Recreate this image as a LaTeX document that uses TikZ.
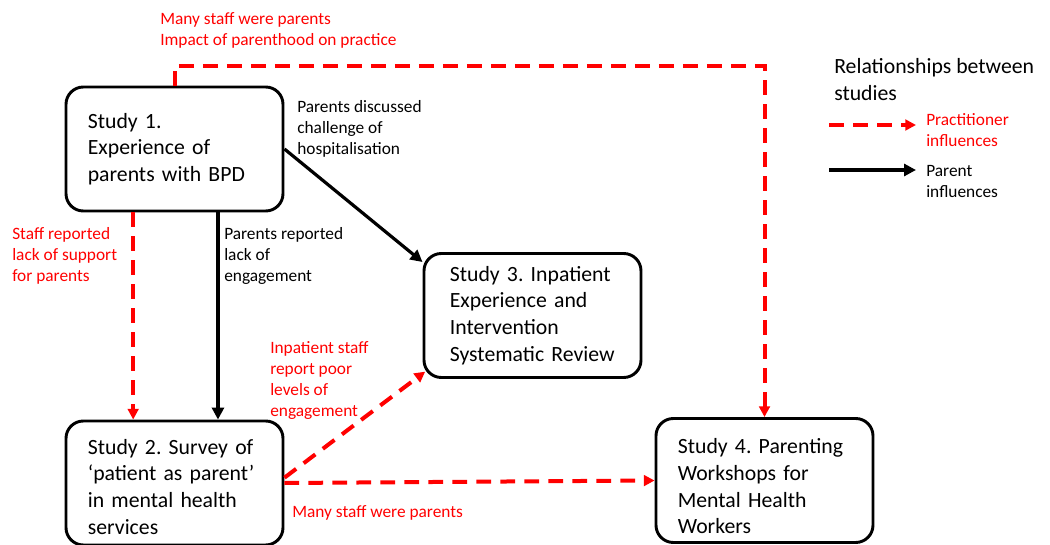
\documentclass[tikz,border=0pt]{standalone}
\usepackage{fontspec}
\setmainfont{Carlito}
\usetikzlibrary{positioning,arrows.meta}
\frenchspacing

\begin{document}
\begin{tikzpicture}
    [x=0.75pt,y=-0.75pt,
     study/.style={rectangle,rounded corners=13pt,draw=black,line width=2.2pt,fill=white,
       minimum width=162.75pt,minimum height=93pt,text width=130pt,align=left,
       font=\fontsize{16.3}{20}\selectfont},
     note/.style={anchor=north west,inner sep=0pt,align=left,font=\fontsize{13}{15.75}\selectfont},
     pracline/.style={red,line width=3pt,dash pattern=on 11pt off 7pt,-{Triangle[length=8pt,width=8pt]}},
     parentline/.style={black,line width=2.4pt,-{Triangle[length=9pt,width=9pt]}}]
    \useasboundingbox (0,0) rectangle (1050,545);

    % the four studies
    \node[study] (s1) at (174.5,149) {Study 1.\\Experience of\\parents with BPD};
    \node[study] (s2) at (174.5,483) {\rule{0pt}{17pt}Study 2. Survey of\\‘patient as parent’\\in mental health\\services};
    \node[study,text width=124pt] (s3) at (532.5,315.5) {Study 3. Inpatient\\Experience and\\Intervention\\Systematic Review};
    \node[study] (s4) at (764.5,480.5) {\rule{0pt}{20pt}Study 4. Parenting\\Workshops for\\Mental Health\\Workers};

    % links between studies
    \coordinate (top) at (0,66);
    \draw[pracline] (s1.north) -- (s1.north |- top) -| (s4.north);
    \draw[pracline] ([xshift=-31pt]s1.south) -- ([xshift=-31pt]s2.north);
    \draw[parentline] ([xshift=32.6pt]s1.south) -- ([xshift=32.6pt]s2.north);
    \draw[parentline] (s1.east) -- ([yshift=-7.5pt]s3.north west);
    \draw[pracline] ([yshift=4pt]s2.east) -- ([xshift=2pt,yshift=5.5pt]s3.south west);
    \draw[pracline] (s2.east) -- (s4.west);

    % labels
    \node[note,red] (topnote) at (160,12) {Many staff were parents\\Impact of parenthood on practice};
    \node[note] (hospnote) at (297,100) {Parents discussed\\challenge of\\hospitalisation};
    \node[note,red] (supnote) at (12,227) {Staff reported\\lack of support\\for parents};
    \node[note] (engnote) at (224,227) {Parents reported\\lack of\\engagement};
    \node[note,red] (inpnote) at (270,341) {Inpatient staff\\report poor\\levels of\\engagement};
    \node[note,red] (staffnote) at (292,505) {Many staff were parents};

    % legend
    \node[note,font=\fontsize{16.3}{20}\selectfont] (legtitle) at (834,58) {Relationships between\\studies};
    \coordinate (pl1) at (829,125);
    \coordinate (pl2) at (916,125);
    \coordinate (bl1) at (829,170);
    \coordinate (bl2) at (916,170);
    \draw[pracline] (pl1) -- (pl2);
    \draw[parentline] (bl1) -- (bl2);
    \node[note,red] (pracnote) at (926,113) {Practitioner\\influences};
    \node[note] (parnote) at (926,165) {Parent\\influences};
\end{tikzpicture}
\end{document}
